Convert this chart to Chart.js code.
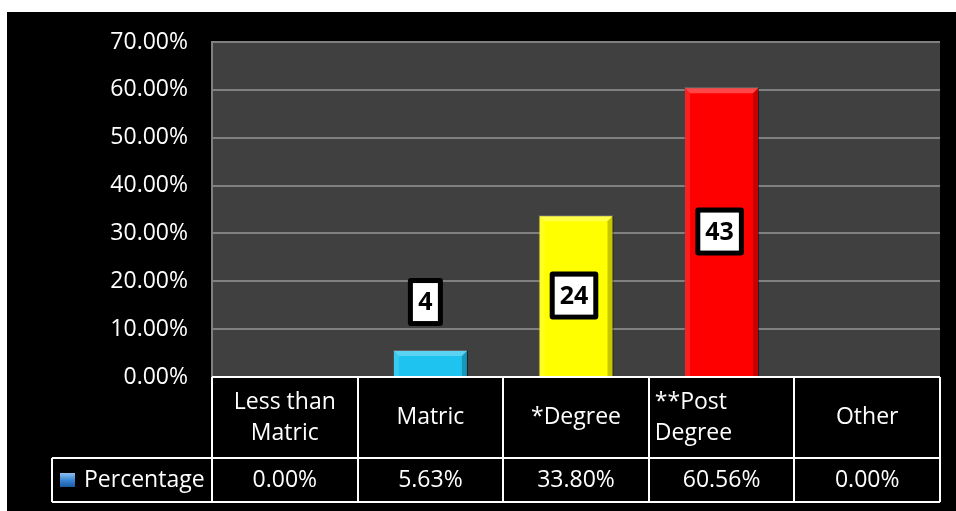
<!DOCTYPE html>
<html>
<head>
<meta charset="utf-8">
<script src="https://cdn.jsdelivr.net/npm/chart.js@4/dist/chart.umd.min.js"></script>
<style>
  html, body { margin: 0; padding: 0; background: #fff; }
  #wrap { position: absolute; left: 7px; top: 12px; width: 949px; height: 499px; background: #000; }
</style>
</head>
<body>
<div id="wrap"><canvas id="eduChart" width="949" height="499"></canvas></div>
<script>
const categories = [["Less than", "Matric"], ["Matric"], ["*Degree"], ["**Post", "Degree"], ["Other"]];
const percentages = [0, 5.63, 33.80, 60.56, 0];
const counts = [null, 4, 24, 43, null];
const barColors = ['#1ec3ef', '#1ec3ef', '#ffff00', '#ff0000', '#ff0000'];
const seriesName = 'Percentage';
const yTicks = [0, 10, 20, 30, 40, 50, 60, 70];

const FONT = '"Open Sans", "Noto Sans", sans-serif';

// dark plot background behind the grid
const plotBg = {
  id: 'plotBg',
  beforeDraw(chart) {
    const {ctx, chartArea: a} = chart;
    ctx.save();
    ctx.fillStyle = '#404040';
    ctx.fillRect(a.left, a.top, a.right - a.left, a.bottom - a.top);
    ctx.restore();
  }
};

// bevelled edges on the bars plus the boxed count labels
const barDecor = {
  id: 'barDecor',
  afterDatasetsDraw(chart) {
    const {ctx} = chart;
    const meta = chart.getDatasetMeta(0);
    ctx.save();
    meta.data.forEach((bar, i) => {
      const h = bar.base - bar.y;
      if (h <= 0) return;
      const l = bar.x - bar.width / 2, r = bar.x + bar.width / 2;
      const d = Math.min(6, h / 2);
      ctx.fillStyle = 'rgba(255,255,255,0.28)';
      ctx.beginPath();
      ctx.moveTo(l, bar.y); ctx.lineTo(r, bar.y);
      ctx.lineTo(r - d, bar.y + d); ctx.lineTo(l + d, bar.y + d);
      ctx.closePath(); ctx.fill();
      ctx.fillStyle = 'rgba(0,0,0,0.22)';
      ctx.beginPath();
      ctx.moveTo(r, bar.y); ctx.lineTo(r, bar.base);
      ctx.lineTo(r - d, bar.base); ctx.lineTo(r - d, bar.y + d);
      ctx.closePath(); ctx.fill();
      ctx.fillStyle = 'rgba(255,255,255,0.12)';
      ctx.beginPath();
      ctx.moveTo(l, bar.y); ctx.lineTo(l + d, bar.y + d);
      ctx.lineTo(l + d, bar.base); ctx.lineTo(l, bar.base);
      ctx.closePath(); ctx.fill();
    });

    ctx.font = 'bold 25px ' + FONT;
    ctx.textAlign = 'center';
    ctx.textBaseline = 'middle';
    meta.data.forEach((bar, i) => {
      if (counts[i] == null) return;
      const txt = String(counts[i]);
      const bh = 48;
      const bw = Math.max(35, ctx.measureText(txt).width + 20);
      const h = bar.base - bar.y;
      const cy = h > bh + 10 ? (bar.y + bar.base) / 2 : bar.y - bh;
      const cx = bar.x - 5 * (txt.length === 1 ? 1 : 0.4);
      ctx.fillStyle = '#000';
      ctx.beginPath();
      ctx.roundRect(cx - bw / 2, cy - bh / 2, bw, bh, 3);
      ctx.fill();
      ctx.fillStyle = '#fff';
      ctx.fillRect(cx - bw / 2 + 5, cy - bh / 2 + 5, bw - 10, bh - 10);
      ctx.fillStyle = '#000';
      ctx.fillText(txt, cx, cy + 1);
    });
    ctx.restore();
  }
};

// data table under the plot: category row and value row
const dataTable = {
  id: 'dataTable',
  afterDraw(chart) {
    const {ctx, chartArea: a} = chart;
    const x = chart.scales.x;
    const step = x.getPixelForValue(1) - x.getPixelForValue(0);
    const top = a.bottom, mid = a.bottom + 81, bot = a.bottom + 125;
    const legLeft = 45;

    ctx.save();
    ctx.strokeStyle = '#fff';
    ctx.lineWidth = 2;
    ctx.beginPath();
    ctx.moveTo(a.left, top); ctx.lineTo(a.right, top);
    ctx.moveTo(legLeft, mid); ctx.lineTo(a.right, mid);
    ctx.moveTo(legLeft, bot); ctx.lineTo(a.right, bot);
    ctx.moveTo(legLeft, mid); ctx.lineTo(legLeft, bot);
    for (let i = 0; i <= categories.length; i++) {
      const px = Math.round(a.left + i * step);
      ctx.moveTo(px, top); ctx.lineTo(px, bot);
    }
    ctx.stroke();

    ctx.fillStyle = '#fff';
    ctx.font = '23px ' + FONT;
    ctx.textBaseline = 'middle';
    categories.forEach((lines, i) => {
      const cx = x.getPixelForValue(i);
      const rowMid = (top + mid) / 2;
      const startY = rowMid - (lines.length - 1) * 31 / 2;
      const leftAlign = i === 3;
      ctx.textAlign = leftAlign ? 'left' : 'center';
      const tx = leftAlign ? cx - step / 2 + 6 : cx;
      lines.forEach((ln, k) => ctx.fillText(ln, tx, startY + k * 31));
      ctx.textAlign = 'center';
      ctx.fillText(percentages[i].toFixed(2) + '%', cx, (mid + bot) / 2);
    });

    // legend key + series name
    const ky = (mid + bot) / 2;
    const g = ctx.createLinearGradient(0, ky - 7, 0, ky + 7);
    g.addColorStop(0, '#8cc0ee');
    g.addColorStop(0.5, '#3b86d4');
    g.addColorStop(1, '#1b5aa3');
    ctx.fillStyle = g;
    ctx.fillRect(53, ky - 7, 15, 14);
    ctx.fillStyle = '#fff';
    ctx.textAlign = 'left';
    ctx.fillText(seriesName, 77, ky);
    ctx.restore();
  }
};

new Chart(document.getElementById('eduChart'), {
  type: 'bar',
  data: {
    labels: categories.map(c => c.join(' ')),
    datasets: [{
      label: seriesName,
      data: percentages,
      backgroundColor: barColors,
      borderColor: 'rgba(0,0,0,0.35)',
      borderWidth: 1,
      categoryPercentage: 1,
      barPercentage: 0.515
    }]
  },
  options: {
    responsive: false,
    animation: false,
    layout: { padding: { top: 30, right: 16, bottom: 134, left: 0 } },
    plugins: { legend: { display: false }, tooltip: { enabled: false } },
    scales: {
      x: { display: false },
      y: {
        min: 0,
        max: 70,
        afterBuildTicks: s => { s.ticks = yTicks.map(v => ({ value: v })); },
        afterFit: s => { s.width = 205; s.paddingTop = 0; s.paddingBottom = 0; },
        ticks: {
          color: '#fff',
          padding: 24,
          font: { family: FONT, size: 23 },
          callback: v => v.toFixed(2) + '%'
        },
        grid: { color: '#808080', lineWidth: 2, drawTicks: false },
        border: { display: true, color: '#808080', width: 2 }
      }
    }
  },
  plugins: [plotBg, barDecor, dataTable]
});
</script>
</body>
</html>
